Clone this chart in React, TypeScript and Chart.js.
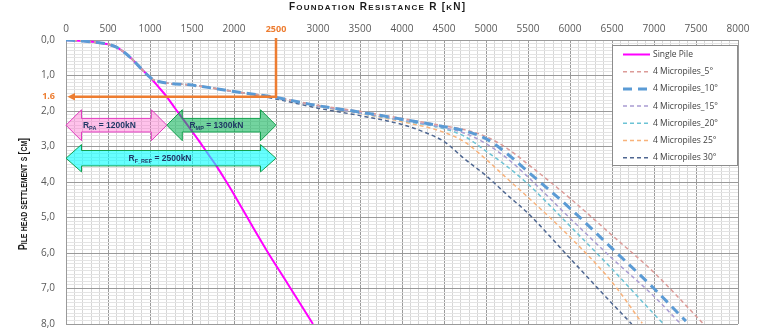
import React, { useEffect, useRef } from 'react';
import { Chart, registerables } from 'chart.js';

Chart.register(...registerables);

// ---------- data: resistance R [kN] vs. pile head settlement s [cm] ----------

const seriesLabels = [
  'Single Pile',
  '4 Micropiles_5°',
  '4 Micropiles_10°',
  '4 Micropiles_15°',
  '4 Micropiles_20°',
  '4 Micropiles 25°',
  '4 Micropiles 30°',
];

// single pile
const pileR = [0, 200, 400, 500, 600, 700, 800, 900, 1000, 1100, 1200, 1300, 1400, 1500, 1600, 1700, 1800, 1900, 2000, 2200, 2400, 2600, 2800, 2940];
const pileS = [0, 0.03, 0.08, 0.12, 0.2, 0.36, 0.57, 0.82, 1.05, 1.32, 1.6, 1.93, 2.25, 2.57, 2.9, 3.24, 3.58, 3.96, 4.35, 5.17, 5.97, 6.72, 7.47, 8.0];

// common initial branch of the micropile groups
const groupHeadR = [0, 200, 400, 500, 600, 700, 800, 900, 1000, 1060, 1500, 2000];
const groupHeadS = [0, 0.03, 0.08, 0.12, 0.2, 0.36, 0.57, 0.82, 1.05, 1.14, 1.27, 1.45];

// individual branches of the micropile groups
const mp5R = [2500, 3000, 3500, 4000, 4500, 4750, 5000, 5250, 5500, 6000, 6500, 7000, 7590];
const mp5S = [1.62, 1.84, 2.01, 2.21, 2.42, 2.53, 2.72, 3.05, 3.5, 4.46, 5.5, 6.55, 8.0];

const mp10R = [2500, 3000, 3500, 4000, 4500, 4750, 5000, 5250, 5500, 6000, 6500, 7000, 7380];
const mp10S = [1.62, 1.85, 2.03, 2.23, 2.44, 2.56, 2.78, 3.2, 3.71, 4.74, 5.87, 7.0, 7.92];

const mp15R = [2500, 3000, 3500, 4000, 4500, 4750, 5000, 5250, 5500, 6000, 6500, 7000, 7310];
const mp15S = [1.62, 1.86, 2.05, 2.25, 2.47, 2.63, 2.92, 3.33, 3.86, 5.02, 6.15, 7.22, 7.98];

const mp20R = [2500, 3000, 3500, 4000, 4500, 4750, 5000, 5250, 5500, 6000, 6500, 7000, 7115];
const mp20S = [1.62, 1.86, 2.06, 2.27, 2.5, 2.72, 3.13, 3.56, 4.06, 5.24, 6.45, 7.72, 8.0];

const mp25R = [2500, 3000, 3500, 4000, 4500, 4750, 5000, 5250, 5500, 6000, 6500, 6860];
const mp25S = [1.62, 1.87, 2.07, 2.3, 2.6, 2.88, 3.36, 3.9, 4.43, 5.55, 6.82, 7.98];

const mp30R = [2500, 3000, 3500, 4000, 4250, 4500, 4750, 5000, 5250, 5500, 6000, 6500, 6735];
const mp30S = [1.66, 1.92, 2.13, 2.38, 2.58, 2.86, 3.36, 3.82, 4.36, 4.88, 6.15, 7.42, 8.0];

// axis ranges and tick steps
const R_MIN = 0;
const R_MAX = 8000;
const R_MINOR = 100;
const R_MAJOR = 500;
const S_MIN = 0;
const S_MAX = 8;
const S_MINOR = 0.1;

// reference design point
const REF_R = 2500;
const REF_S = 1.6;

// resistance shares
const R_PA = 1200;
const R_MP = 1300;
const R_F_REF = 2500;

// ---------- styling ----------

const ORANGE = '#ed7d31';
const TICK_FONT = '"Open Sans", "DejaVu Sans", sans-serif';
const TEXT_FONT = '"Liberation Sans", Arial, sans-serif';
const ARROW_TEXT = '#1f3864';
const ARROW_LEVELS = [2.4, 3.33];

type Pt = { x: number; y: number };

function zipPoints(r: number[], s: number[]): Pt[] {
  return r.map((v, i) => ({ x: v, y: s[i] }));
}

function groupPoints(tailR: number[], tailS: number[]): Pt[] {
  return zipPoints(groupHeadR, groupHeadS).concat(zipPoints(tailR, tailS));
}

const isMajorR = (v: number) => Math.abs(v - Math.round(v)) < 1e-6 && Math.round(v) % R_MAJOR === 0;
const isMajorS = (v: number) => Math.abs(v - Math.round(v)) < 1e-6;
const isRefS = (v: number) => Math.abs(v - REF_S) < 1e-6;

function blockArrow(ctx: CanvasRenderingContext2D, xl: number, xr: number, yc: number, body: number, head: number, len: number) {
  ctx.beginPath();
  ctx.moveTo(xl, yc);
  ctx.lineTo(xl + len, yc - head);
  ctx.lineTo(xl + len, yc - body);
  ctx.lineTo(xr - len, yc - body);
  ctx.lineTo(xr - len, yc - head);
  ctx.lineTo(xr, yc);
  ctx.lineTo(xr - len, yc + head);
  ctx.lineTo(xr - len, yc + body);
  ctx.lineTo(xl + len, yc + body);
  ctx.lineTo(xl + len, yc + head);
  ctx.closePath();
}

function subscriptLabel(ctx: CanvasRenderingContext2D, sub: string, rest: string, cx: number, cy: number) {
  const main = `bold 8.5px ${TEXT_FONT}`;
  const small = `bold 5.5px ${TEXT_FONT}`;
  ctx.font = main;
  const wR = ctx.measureText('R').width;
  const wRest = ctx.measureText(rest).width;
  ctx.font = small;
  const wSub = ctx.measureText(sub).width;
  let x = cx - (wR + wSub + wRest) / 2;
  const base = cy + 3;
  ctx.fillStyle = ARROW_TEXT;
  ctx.textAlign = 'left';
  ctx.textBaseline = 'alphabetic';
  ctx.font = main;
  ctx.fillText('R', x, base);
  x += wR;
  ctx.font = small;
  ctx.fillText(sub, x, base + 2);
  x += wSub;
  ctx.font = main;
  ctx.fillText(rest, x, base);
}

// small-caps text: capitals at `big`, lower-case letters as capitals at `small`
function smallCaps(
  ctx: CanvasRenderingContext2D,
  text: string,
  cx: number,
  cy: number,
  big: number,
  small: number,
  length: number,
  stretch: 'spacing' | 'scale',
  rotate: boolean,
) {
  const glyphs = [...text].map((ch) => {
    const lower = ch !== ch.toUpperCase();
    return { ch: ch.toUpperCase(), size: lower ? small : big };
  });
  const widths = glyphs.map((g) => {
    ctx.font = `bold ${g.size}px ${TEXT_FONT}`;
    return ctx.measureText(g.ch).width;
  });
  const natural = widths.reduce((a, b) => a + b, 0);
  const gap = stretch === 'spacing' ? (length - natural) / (glyphs.length - 1) : 0;
  const sx = stretch === 'scale' ? length / natural : 1;
  ctx.save();
  ctx.translate(cx, cy);
  if (rotate) ctx.rotate(-Math.PI / 2);
  ctx.scale(sx, 1);
  ctx.fillStyle = '#1a1a1a';
  ctx.textAlign = 'left';
  ctx.textBaseline = 'alphabetic';
  let x = -(natural + gap * (glyphs.length - 1)) / 2;
  const base = big * 0.36;
  glyphs.forEach((g, i) => {
    ctx.font = `bold ${g.size}px ${TEXT_FONT}`;
    ctx.fillText(g.ch, x, base);
    x += widths[i] + gap;
  });
  ctx.restore();
}

const overlayPlugin = {
  id: 'overlay',
  afterDatasetsDraw(chart: any) {
    const { ctx, chartArea: ca, scales } = chart;
    const x = scales.x;
    const y = scales.y;
    ctx.save();

    // reference point R = 2500 kN / s = 1.6 cm
    const xr = x.getPixelForValue(REF_R);
    const yr = y.getPixelForValue(REF_S);
    const x0 = x.getPixelForValue(R_MIN);
    ctx.strokeStyle = ORANGE;
    ctx.lineWidth = 2.5;
    ctx.lineJoin = 'miter';
    ctx.setLineDash([]);
    ctx.beginPath();
    ctx.moveTo(xr, ca.top - 2);
    ctx.lineTo(xr, yr);
    ctx.lineTo(x0 + 8, yr);
    ctx.stroke();
    ctx.fillStyle = ORANGE;
    ctx.beginPath();
    ctx.moveTo(x0 + 1.5, yr);
    ctx.lineTo(x0 + 9, yr - 3.8);
    ctx.lineTo(x0 + 9, yr + 3.8);
    ctx.closePath();
    ctx.fill();

    // resistance share arrows
    const arrows = [
      { from: 0, to: R_PA, level: ARROW_LEVELS[0], body: 6.8, head: 15.5, fill: 'rgba(255,102,204,0.4)', stroke: '#e23cc0', sub: 'PA', value: R_PA, shift: -7 },
      { from: R_PA, to: R_PA + R_MP, level: ARROW_LEVELS[0], body: 6.8, head: 15.5, fill: 'rgba(0,176,80,0.55)', stroke: '#13a04e', sub: 'MP', value: R_MP, shift: -5 },
      { from: 0, to: R_F_REF, level: ARROW_LEVELS[1], body: 7.7, head: 13.7, fill: 'rgba(0,255,255,0.6)', stroke: '#13a04e', sub: 'F_REF', value: R_F_REF, shift: -11 },
    ];
    arrows.forEach((a) => {
      const xl = x.getPixelForValue(a.from);
      const xrr = x.getPixelForValue(a.to);
      const yc = y.getPixelForValue(a.level);
      blockArrow(ctx, xl, xrr, yc, a.body, a.head, 15.5);
      ctx.fillStyle = a.fill;
      ctx.fill();
      ctx.strokeStyle = a.stroke;
      ctx.lineWidth = 1;
      ctx.stroke();
      subscriptLabel(ctx, a.sub, ` = ${a.value}kN`, (xl + xrr) / 2 + a.shift, yc);
    });

    // legend box
    const lw = 125;
    const lh = 120;
    const lx = Math.round(ca.right - lw - 1);
    const ly = Math.round(ca.top + 5);
    ctx.fillStyle = '#ffffff';
    ctx.fillRect(lx, ly, lw, lh);
    ctx.strokeStyle = '#8c8c8c';
    ctx.lineWidth = 1;
    ctx.strokeRect(lx + 0.5, ly + 0.5, lw, lh);
    chart.data.datasets.forEach((ds: any, i: number) => {
      const yy = ly + 9.5 + i * 17.2;
      ctx.strokeStyle = ds.borderColor;
      ctx.lineWidth = ds.borderWidth;
      ctx.setLineDash(ds.borderDash || []);
      ctx.beginPath();
      ctx.moveTo(lx + 11, yy);
      ctx.lineTo(lx + 38, yy);
      ctx.stroke();
      ctx.setLineDash([]);
      ctx.fillStyle = '#404040';
      ctx.font = `8.5px ${TICK_FONT}`;
      ctx.textAlign = 'left';
      ctx.textBaseline = 'middle';
      ctx.fillText(ds.label, lx + 41, yy);
    });

    ctx.restore();
  },
  afterDraw(chart: any) {
    const { ctx } = chart;
    smallCaps(ctx, 'Foundation Resistance R [kN]', 377, 6.5, 10, 8, 176, 'spacing', false);
    smallCaps(ctx, 'Pile head settlement s [cm]', 23, 194, 12, 9.5, 112, 'scale', true);
  },
};

export default function App() {
  const ref = useRef<HTMLCanvasElement | null>(null);

  useEffect(() => {
    if (!ref.current) return;
    const dotted = { borderWidth: 1.5, borderDash: [4, 3] };
    const chart = new Chart(ref.current, {
      type: 'line',
      data: {
        datasets: [
          { label: seriesLabels[0], data: zipPoints(pileR, pileS), borderColor: '#ff00ff', borderWidth: 2, order: 2 },
          { label: seriesLabels[1], data: groupPoints(mp5R, mp5S), borderColor: '#dc9b98', ...dotted, order: 0 },
          { label: seriesLabels[2], data: groupPoints(mp10R, mp10S), borderColor: '#5b9bd5', borderWidth: 3, borderDash: [9, 6], order: -1 },
          { label: seriesLabels[3], data: groupPoints(mp15R, mp15S), borderColor: '#a99cd2', ...dotted, order: 0 },
          { label: seriesLabels[4], data: groupPoints(mp20R, mp20S), borderColor: '#6cc3d5', ...dotted, order: 0 },
          { label: seriesLabels[5], data: groupPoints(mp25R, mp25S), borderColor: '#f8b27a', ...dotted, order: 0 },
          { label: seriesLabels[6], data: groupPoints(mp30R, mp30S), borderColor: '#4f6791', ...dotted, order: 0 },
        ] as any,
      },
      options: {
        responsive: false,
        animation: false,
        events: [],
        elements: {
          point: { radius: 0 },
          line: { cubicInterpolationMode: 'monotone', fill: false },
        },
        layout: { padding: { left: 0, right: 21, top: 0, bottom: 7 } },
        plugins: {
          legend: { display: false },
          tooltip: { enabled: false },
          title: { display: false },
        },
        scales: {
          x: {
            type: 'linear',
            position: 'top',
            min: R_MIN,
            max: R_MAX,
            afterFit: (s: any) => {
              s.height = 40;
              s.paddingLeft = 0;
              s.paddingRight = 0;
            },
            ticks: {
              stepSize: R_MINOR,
              autoSkip: false,
              maxRotation: 0,
              minRotation: 0,
              padding: 5,
              callback: (v: any) => (isMajorR(Number(v)) ? String(Math.round(Number(v))) : ''),
              color: (c: any) => (c.tick && c.tick.value === REF_R ? ORANGE : '#595959'),
              font: (c: any) =>
                c.tick && c.tick.value === REF_R
                  ? { family: TICK_FONT, size: 9, weight: 'bold' }
                  : { family: TICK_FONT, size: 10 },
            },
            grid: {
              drawTicks: false,
              color: (c: any) => (c.tick && isMajorR(c.tick.value) ? '#9a9a9a' : '#d6d6d6'),
              lineWidth: 1,
            },
            border: { display: true, color: '#9a9a9a' },
          },
          y: {
            type: 'linear',
            reverse: true,
            min: S_MIN,
            max: S_MAX,
            afterFit: (s: any) => {
              s.width = 66;
              s.paddingTop = 0;
              s.paddingBottom = 0;
            },
            ticks: {
              stepSize: S_MINOR,
              autoSkip: false,
              padding: 11,
              callback: (v: any) => {
                const n = Number(v);
                if (isRefS(n)) return String(REF_S);
                if (isMajorS(n)) return n.toFixed(1).replace('.', ',');
                return '';
              },
              color: (c: any) => (c.tick && isRefS(c.tick.value) ? ORANGE : '#595959'),
              font: (c: any) =>
                c.tick && isRefS(c.tick.value)
                  ? { family: TICK_FONT, size: 9, weight: 'bold' }
                  : { family: TICK_FONT, size: 10 },
            },
            grid: {
              drawTicks: false,
              color: (c: any) => (c.tick && isMajorS(c.tick.value) ? '#9a9a9a' : '#e4e4e4'),
              lineWidth: 1,
            },
            border: { display: true, color: '#9a9a9a' },
          },
        },
      } as any,
      plugins: [overlayPlugin],
    });
    return () => chart.destroy();
  }, []);

  return (
    <div style={{ position: 'fixed', left: 0, top: 0, width: 759, height: 331, background: '#ffffff' }}>
      <canvas ref={ref} width={759} height={331} style={{ display: 'block' }} />
    </div>
  );
}
